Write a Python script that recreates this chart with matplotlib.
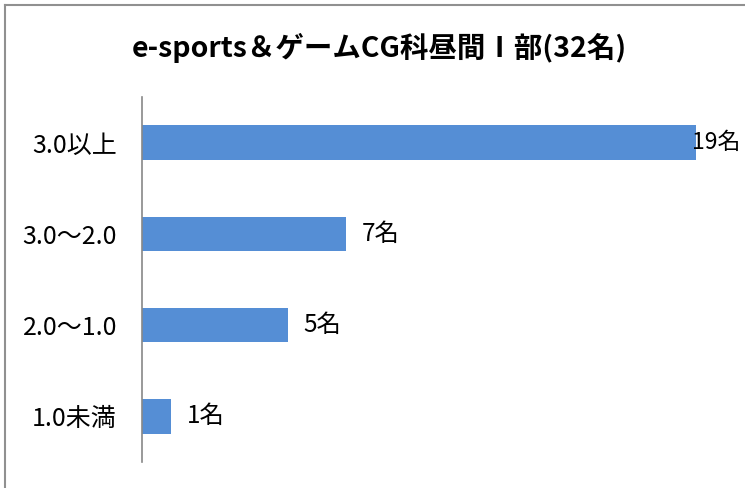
import matplotlib
matplotlib.use("Agg")
import matplotlib.pyplot as plt
from matplotlib.lines import Line2D

plt.rcParams['font.family'] = ['Noto Sans CJK JP', 'DejaVu Sans']

categories = ["3.0以上", "3.0～2.0", "2.0～1.0", "1.0未満"]
counts = [19, 7, 5, 1]
labels = ["19名", "7名", "5名", "1名"]
title = "e-sports＆ゲームCG科昼間Ⅰ部(32名)"

W, H = 745, 488
fig = plt.figure(figsize=(W / 100, H / 100), dpi=100)
ax = fig.add_axes([142 / W, 26 / H, (725 - 142) / W, (462 - 97) / H])

y = range(len(categories))
ax.barh(y, counts, height=0.38, color="#558ED5")
ax.set_xlim(0, 20)
ax.set_ylim(3.5, -0.5)
ax.set_yticks(list(y))
ax.set_yticklabels(categories, fontsize=18)
ax.tick_params(axis="y", length=0, pad=18)
ax.set_xticks([])
for s in ["top", "right", "bottom"]:
    ax.spines[s].set_visible(False)
ax.spines["left"].set_color("#888888")
ax.spines["left"].set_linewidth(1.2)

# value labels (the longest one is pushed against the bar end, as in the original)
for i, (v, lab) in enumerate(zip(counts, labels)):
    if v == max(counts):
        ax.text(v - 0.12, i, lab, va="center", ha="left", fontsize=16.5)
    else:
        ax.text(v + 0.55, i, lab, va="center", ha="left", fontsize=17.5)

fig.text(379 / W, 1 - 48 / H, title, ha="center", va="center",
         fontsize=20.5, fontweight="bold")

# chart border (left and top visible)
fig.add_artist(Line2D([5 / W, 5 / W], [0, 1 - 5 / H], color="#909090", lw=1.5))
fig.add_artist(Line2D([5 / W, 1], [1 - 5 / H, 1 - 5 / H], color="#909090", lw=1.5))

fig.savefig("out.png", dpi=100)
